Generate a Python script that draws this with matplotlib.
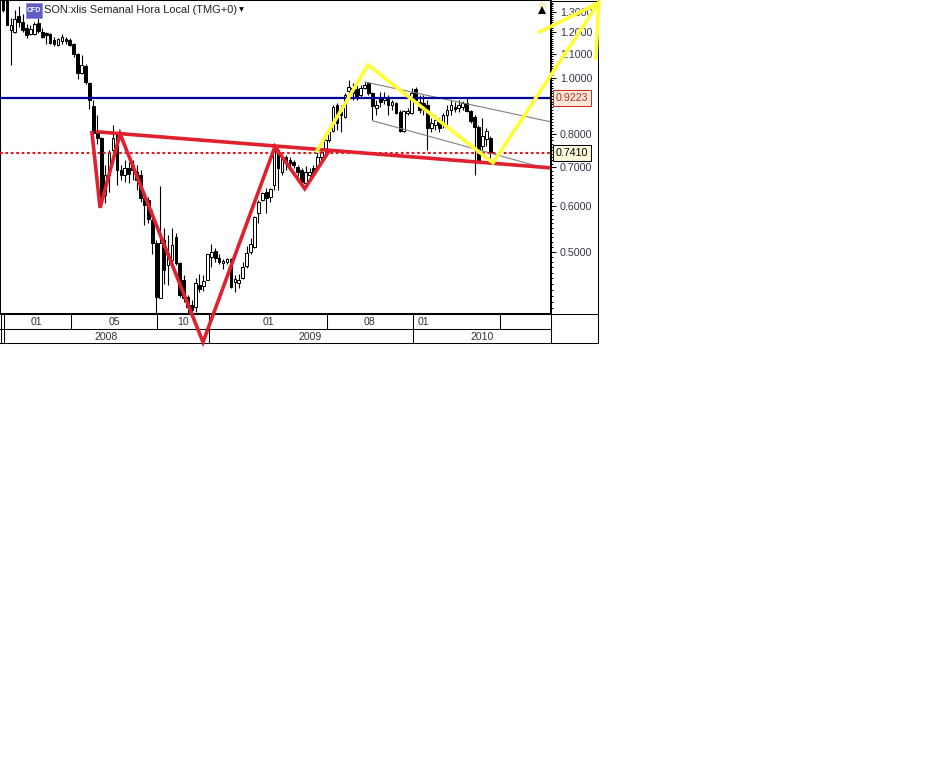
import numpy as np
import matplotlib
matplotlib.use("Agg")
import matplotlib.pyplot as plt
from matplotlib.lines import Line2D
from matplotlib.patches import Rectangle
from matplotlib.ticker import NullFormatter

plt.rcParams['font.family'] = ['Liberation Sans', 'DejaVu Sans']

body_top = [1.364,1.364,1.235,1.265,1.280,1.250,1.220,1.216,1.240,1.245,
 1.201,1.196,1.192,1.163,1.168,1.178,1.168,1.163,1.145,1.100,
 1.053,1.049,.980,.894,.804,.788,.680,.742,.788,.797,
 .693,.699,.699,.707,.688,.680,.620,.615,.568,.519,
 .519,.525,.498,.514,.530,.479,.447,.418,.405,.442,
 .438,.445,.496,.500,.502,.488,.482,.486,.486,.449,
 .447,.471,.498,.517,.575,.610,.633,.635,.643,.757,
 .751,.727,.730,.721,.716,.702,.693,.688,.688,.699,
 .730,.745,.781,.807,.891,.898,.873,.935,.965,.961,
 .957,.961,.973,.980,.942,.898,.927,.927,.924,.909,
 .905,.873,.877,.877,.942,.957,.909,.905,.898,.836,
 .846,.846,.863,.880,.898,.891,.898,.905,.905,.877,
 .856,.823,.794,.810,.788]
body_bottom = [1.311,1.235,1.211,1.201,1.250,1.211,1.187,1.192,1.192,1.206,
 1.178,1.187,1.150,1.145,1.140,1.159,1.159,1.140,1.100,1.020,
 1.020,.984,.916,.804,.788,.623,.628,.680,.751,.693,
 .680,.680,.682,.693,.666,.620,.603,.570,.519,.418,
 .416,.465,.475,.484,.479,.421,.416,.402,.397,.402,
 .431,.437,.447,.490,.488,.481,.479,.481,.435,.444,
 .442,.451,.473,.500,.510,.584,.615,.620,.623,.653,
 .699,.688,.716,.713,.707,.688,.661,.658,.680,.682,
 .702,.730,.751,.781,.810,.836,.863,.856,.950,.942,
 .927,.935,.961,.942,.894,.887,.909,.916,.898,.898,
 .870,.810,.810,.870,.870,.916,.880,.884,.820,.820,
 .829,.820,.836,.863,.880,.884,.887,.891,.877,.843,
 .823,.718,.763,.785,.745]
highs = [1.364,1.364,1.270,1.311,1.332,1.290,1.240,1.235,1.250,1.270,
 1.220,1.201,1.196,1.178,1.173,1.192,1.178,1.173,1.150,1.105,
 1.096,1.057,.984,.916,.863,.791,.707,.751,.829,.804,
 .707,.721,.716,.721,.707,.693,.625,.623,.591,.525,
 .650,.550,.535,.550,.539,.481,.456,.421,.413,.451,
 .458,.456,.496,.517,.508,.496,.486,.488,.488,.456,
 .458,.481,.512,.528,.577,.615,.635,.645,.645,.772,
 .757,.736,.736,.730,.721,.707,.699,.704,.699,.707,
 .745,.751,.788,.813,.898,.905,.898,.942,.992,.980,
 .973,.973,.984,.984,.946,.916,.946,.946,.935,.916,
 .909,.880,.880,.887,.961,.965,.935,.935,.916,.853,
 .863,.853,.870,.898,.916,.909,.916,.912,.924,.880,
 .863,.829,.853,.820,.794]
lows = [1.301,1.235,1.053,1.196,1.225,1.201,1.173,1.187,1.187,1.196,
 1.173,1.145,1.145,1.136,1.136,1.145,1.145,1.136,1.087,.996,
 1.016,.976,.884,.800,.769,.603,.608,.635,.742,.653,
 .666,.661,.658,.666,.640,.610,.557,.561,.496,.392,
 .416,.440,.438,.475,.475,.418,.410,.392,.392,.394,
 .426,.428,.447,.471,.481,.477,.467,.477,.433,.426,
 .433,.449,.469,.496,.508,.561,.613,.584,.610,.640,
 .640,.680,.693,.699,.699,.677,.656,.653,.672,.677,
 .699,.716,.745,.775,.807,.813,.807,.853,.935,.916,
 .916,.927,.957,.935,.846,.863,.891,.902,.863,.880,
 .866,.807,.807,.863,.866,.912,.870,.863,.751,.807,
 .813,.807,.820,.829,.863,.873,.873,.880,.873,.836,
 .680,.713,.751,.763,.727]
rising_weeks = [2,3,7,8,14,15,20,26,27,28,31,40,42,43,49,51,52,53,56,57,59,60,61,62,63,64,65,66,68,69,
 71,77,78,80,81,82,83,84,87,88,91,92,95,97,99,102,103,104,109,110,112,113,114,116,117,122,123]

neck_x = [23.7, 139.2]
neck_y = [.807, .699]
red_x = [22.65, 24.7, 29.8, 50.9, 69.2, 76.8, 83.0]
red_y = [.804, .596, .800, .349, .760, .643, .748]
yellow_x = [79.9, 92.9, 124.7, 151.6]
yellow_y = [.748, 1.053, .713, 1.349]
arrow_x = [136.6, 151.6, 150.9]
arrow_y = [1.201, 1.349, 1.083]
chan_up_x, chan_up_y = [92.1, 139.2], [.984, .840]
chan_lo_x, chan_lo_y = [94.1, 136.6], [.843, .702]

blue_level = 0.9223
red_level = 0.7410
major_ticks = [.5, .6, .7, .8, .9, 1.0, 1.1, 1.2, 1.3]
major_labels = ['0.5000', '0.6000', '0.7000', '0.8000', '', '1.0000', '1.1000', '1.2000', '1.3000']
period_labels = ['01', '05', '10', '01', '08', '01']
period_pos = [36, 114, 183, 268, 369, 423]
period_edges = [4, 71, 157, 209, 327, 413, 500]
year_labels = ['2008', '2009', '2010']
year_pos = [106, 310, 482]
year_edges = [4, 209, 413]
title = 'SON:xlis Semanal Hora Local (TMG+0)'

W, H = 942, 765
fig = plt.figure(figsize=(W / 100, H / 100), dpi=100, facecolor='white')
ax = fig.add_axes([0, 1 - 313 / H, 550 / W, 313 / H])
ax.set_yscale('log')
ax.set_xlim(-0.76, 139.2)
ax.set_ylim(0.392, 1.364)

weeks = np.arange(len(highs))
is_up = np.isin(weeks, rising_weeks)
top = np.array(body_top)
bot = np.array(body_bottom)
ax.vlines(weeks, lows, highs, color='black', lw=0.8, zorder=2)
ax.bar(weeks, top - bot, bottom=bot, width=0.68,
       color=['white' if u else 'black' for u in is_up],
       edgecolor='black', linewidth=0.72, zorder=3)

ax.plot(chan_up_x, chan_up_y, color='#808080', lw=0.8, zorder=4)
ax.plot(chan_lo_x, chan_lo_y, color='#808080', lw=0.8, zorder=4)
ax.axhline(blue_level, color='#00009a', lw=1.6, zorder=4)
ax.axhline(red_level, color='#e0141e', lw=1.5, ls=(0, (1.3, 1.3)), zorder=4)
ax.plot(neck_x, neck_y, color='#e0202e', lw=2.6, zorder=5, solid_capstyle='butt')
ax.plot(red_x, red_y, color='#e0202e', lw=2.6, zorder=5, clip_on=False, solid_joinstyle='miter')
ax.plot(yellow_x, yellow_y, color='#ffff33', lw=2.6, zorder=6, clip_on=False, solid_joinstyle='miter')
ax.plot(arrow_x, arrow_y, color='#ffff33', lw=2.6, zorder=6, clip_on=False, solid_joinstyle='miter')

ax.set_xticks([])
ax.yaxis.tick_right()
ax.set_yticks(major_ticks, labels=major_labels)
ax.set_yticks(np.arange(.40, 1.365, .01), minor=True)
ax.yaxis.set_minor_formatter(NullFormatter())
ax.tick_params(axis='y', which='major', length=4, width=0.75, pad=3, labelsize=7.7,
               labelcolor='#35324a')
ax.tick_params(axis='y', which='minor', length=2.4, width=0.7)
for s in ax.spines.values():
    s.set_linewidth(0.75)


def fx(x):
    return x / W


def fy(y):
    return 1 - y / H


def hline(y, x0, x1):
    fig.add_artist(Line2D([fx(x0), fx(x1)], [fy(y), fy(y)], color='black', lw=0.75, zorder=-1))


def vline(x, y0, y1):
    fig.add_artist(Line2D([fx(x), fx(x)], [fy(y0), fy(y1)], color='black', lw=0.75, zorder=-1))


hline(0.5, 0, 597.5)
hline(313.5, 0, 597.5)
hline(328.5, 0, 550.5)
hline(343, 0, 597.5)
vline(1, 0, 343)
vline(597.5, 0, 343)
vline(550.5, 0, 343)
for e in period_edges:
    vline(e, 313.5, 328.5)
for e in year_edges:
    vline(e, 328.5, 343)
for lab, p in zip(period_labels, period_pos):
    fig.text(fx(p), fy(321.5), lab, ha='center', va='center', fontsize=7.6, color='#333333')
for lab, p in zip(year_labels, year_pos):
    fig.text(fx(p), fy(337), lab, ha='center', va='center', fontsize=7.6, color='#333333')

# value boxes
for val, yc, edge, face, tcol in [(blue_level, 98, '#d03020', '#fdeadb', '#c8281e'),
                                  (red_level, 153, 'black', '#fdfbdc', 'black')]:
    fig.add_artist(Rectangle((fx(552.5), fy(yc + 8)), 38.5 / W, 16 / H, transform=fig.transFigure,
                             facecolor=face, edgecolor=edge, lw=0.75, zorder=10))
    fig.text(fx(571.5), fy(yc), f'{val:.4f}', ha='center', va='center', fontsize=7.7,
             color=tcol, zorder=11)

# header
fig.add_artist(Rectangle((fx(26), fy(18)), 16 / W, 15 / H, transform=fig.transFigure,
                         facecolor='#5f5cc4', edgecolor='#8a88d8', lw=0.5, zorder=10))
fig.text(fx(34), fy(10.5), 'CFD', ha='center', va='center', fontsize=5, color='white',
         fontweight='bold', zorder=11)
fig.text(fx(44), fy(10), title, ha='left', va='center', fontsize=7.9, color='#222222', zorder=11)
fig.add_artist(Line2D([fx(241)], [fy(9)], marker='v', ms=3.4, color='black', mew=0, zorder=11))

# alarm icon, top right
fig.add_artist(Line2D([fx(541.5)], [fy(4.5)], marker='o', ms=4, mfc='#fdf6c8', mec='#e8dfa0',
                      mew=0.5, zorder=11))
fig.add_artist(Line2D([fx(541.5)], [fy(10)], marker='^', ms=5.5, color='black', mew=0, zorder=11))

fig.savefig('out.png', dpi=100, facecolor='white')
